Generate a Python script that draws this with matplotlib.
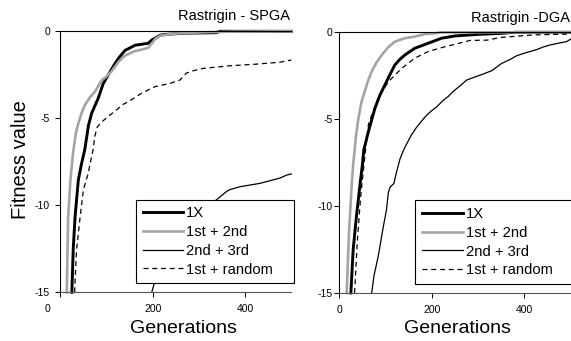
import matplotlib.pyplot as plt
import matplotlib.transforms as mtransforms

plt.rcParams['font.family'] = ['Liberation Sans', 'DejaVu Sans']
plt.rcParams['axes.unicode_minus'] = False

labels = ['1X', '1st + 2nd', '2nd + 3rd', '1st + random']

# Rastrigin - SPGA
spga_1x_gen = [25, 28, 32, 39, 46, 53, 61, 68, 82, 93, 104, 115, 126, 140, 162, 190, 198, 205, 216, 227, 266, 338, 345, 500]
spga_1x_val = [-15, -12.5, -10.65, -8.55, -7.6, -6.8, -5.4, -4.7, -3.85, -3.0, -2.5, -2.0, -1.55, -1.1, -0.8, -0.69, -0.5, -0.4, -0.22, -0.18, -0.11, -0.08, 0, 0]
spga_12_gen = [14, 17, 22, 28, 34, 39, 46, 53, 64, 75, 90, 100, 111, 126, 140, 160, 176, 190, 198, 205, 216, 240, 266, 320, 374, 500]
spga_12_val = [-15, -10.65, -8.5, -6.9, -5.8, -5.3, -4.7, -4.25, -3.8, -3.47, -2.8, -2.6, -2.3, -1.75, -1.4, -1.15, -1.05, -0.95, -0.7, -0.45, -0.25, -0.15, -0.1, -0.05, -0.02, 0]
spga_23_gen = [198, 202, 215, 250, 300, 351, 360, 367, 389, 432, 476, 490, 500]
spga_23_val = [-15, -14.6, -13.5, -12.0, -10.5, -9.4, -9.2, -9.1, -8.93, -8.74, -8.43, -8.26, -8.2]
spga_rd_gen = [31, 35, 43, 50, 60, 71, 75, 80, 90, 108, 118, 136, 147, 176, 205, 237, 259, 273, 290, 310, 367, 418, 474, 500]
spga_rd_val = [-15, -12.6, -10.65, -9.1, -8.2, -6.8, -6.0, -5.5, -5.2, -4.8, -4.6, -4.2, -4.05, -3.56, -3.18, -3.0, -2.8, -2.4, -2.25, -2.13, -1.98, -1.9, -1.78, -1.65]

# Rastrigin -DGA
dga_1x_gen = [25, 30, 37, 45, 50, 53, 63, 77, 88, 99, 110, 120, 131, 142, 163, 180, 192, 210, 221, 250, 300, 350, 380, 500]
dga_1x_val = [-15, -12.5, -10.6, -8.7, -7.6, -6.76, -5.7, -4.37, -3.6, -3.0, -2.4, -1.88, -1.55, -1.3, -0.92, -0.75, -0.63, -0.45, -0.34, -0.21, -0.12, -0.06, 0, 0]
dga_12_gen = [16, 21, 27, 30, 36, 41, 48, 55, 62, 70, 80, 92, 106, 120, 140, 163, 185, 207, 221, 500]
dga_12_val = [-15, -11.5, -8.7, -7.6, -6.0, -5.0, -4.0, -3.4, -2.8, -2.26, -1.75, -1.3, -0.85, -0.54, -0.35, -0.25, -0.1, -0.06, 0, 0]
dga_23_gen = [70, 75, 84, 95, 102, 106, 110, 118, 124, 131, 137, 142, 150, 156, 166, 178, 189, 200, 210, 225, 235, 246, 260, 275, 290, 311, 330, 350, 370, 383, 400, 426, 440, 455, 475, 491, 498, 500]
dga_23_val = [-15, -14, -12.9, -11.2, -10.2, -9.2, -8.9, -8.7, -8.0, -7.3, -6.9, -6.6, -6.2, -5.9, -5.5, -5.1, -4.76, -4.5, -4.3, -3.9, -3.7, -3.4, -3.1, -2.75, -2.6, -2.4, -2.2, -1.8, -1.55, -1.35, -1.2, -1.0, -0.85, -0.73, -0.62, -0.54, -0.42, -0.4]
dga_rd_gen = [33, 39, 46, 55, 63, 70, 84, 106, 135, 163, 192, 228, 250, 282, 320, 347, 419, 498, 500]
dga_rd_val = [-15, -12, -9.5, -7.2, -5.3, -4.75, -3.8, -2.84, -2.07, -1.49, -1.11, -0.83, -0.69, -0.47, -0.45, -0.3, -0.15, -0.1, -0.1]

styles = [
    dict(color='black', lw=2.1),
    dict(color='#a4a4a4', lw=1.9),
    dict(color='black', lw=0.9),
    dict(color='black', lw=0.9, ls=(0, (4, 3))),
]


def draw_panel(ax, series, xlabel_x):
    for (g, v), st, lab in zip(series, styles, labels):
        ax.plot(g, v, label=lab, clip_on=False, **st)
    ax.set_xlim(0, 500)
    ax.set_ylim(-15, 0)
    ax.set_xticks([0, 200, 400])
    ax.set_yticks([0, -5, -10, -15])
    ax.set_yticklabels(['0', '-5', '-10', '-15'])
    ax.spines['right'].set_visible(False)
    ax.spines['top'].set_linewidth(0.8)
    ax.spines['left'].set_linewidth(0.8)
    ax.spines['bottom'].set_color('#555555')
    ax.spines['bottom'].set_linewidth(0.8)
    ax.tick_params(labelsize=7.5, length=3.5, width=0.7)
    ax.tick_params(axis='x', pad=5)
    ax.set_xlabel('Generations', fontsize=14)
    ax.xaxis.set_label_coords(xlabel_x, -0.137)
    ax.xaxis.label.set_va('center')
    # legend box stretched wider than its contents, like the original
    leg = ax.legend(loc='lower left', bbox_to_anchor=(0.329, 0.035, 0.683, 0.33), mode='expand',
                    fontsize=10.6, frameon=True, fancybox=False, framealpha=1, edgecolor='black',
                    handlelength=2.75, handletextpad=0.2, labelspacing=0.32,
                    borderpad=0.45, borderaxespad=0)
    leg.get_frame().set_linewidth(0.8)
    return ax


plt.figure(figsize=(5.71, 3.41), dpi=100)

ax1 = plt.axes([0.1056, 0.1428, 0.4046, 0.7654])
draw_panel(ax1, [(spga_1x_gen, spga_1x_val), (spga_12_gen, spga_12_val),
                 (spga_23_gen, spga_23_val), (spga_rd_gen, spga_rd_val)], 0.535)
ax1.tick_params(axis='y', pad=4)
ax1.set_ylabel('Fitness value', fontsize=14.5, va='center')
ax1.yaxis.set_label_coords(-0.174, 0.507)
# the "0" under the first panel sits left of the axis
lab0 = ax1.get_xticklabels()[0]
lab0.set_transform(lab0.get_transform() + mtransforms.ScaledTranslation(-13 / 100, 0, plt.gcf().dpi_scale_trans))

ax2 = plt.axes([0.5942, 0.1408, 0.4054, 0.7645])
draw_panel(ax2, [(dga_1x_gen, dga_1x_val), (dga_12_gen, dga_12_val),
                 (dga_23_gen, dga_23_val), (dga_rd_gen, dga_rd_val)], 0.512)
ax2.tick_params(axis='y', pad=1.5)

plt.figtext(290 / 571, 1 - 15.7 / 341, 'Rastrigin - SPGA', ha='right', va='center', fontsize=10.5)
plt.figtext(570 / 571, 1 - 18 / 341, 'Rastrigin -DGA', ha='right', va='center', fontsize=10.5)

plt.savefig('out.png', dpi=100)
